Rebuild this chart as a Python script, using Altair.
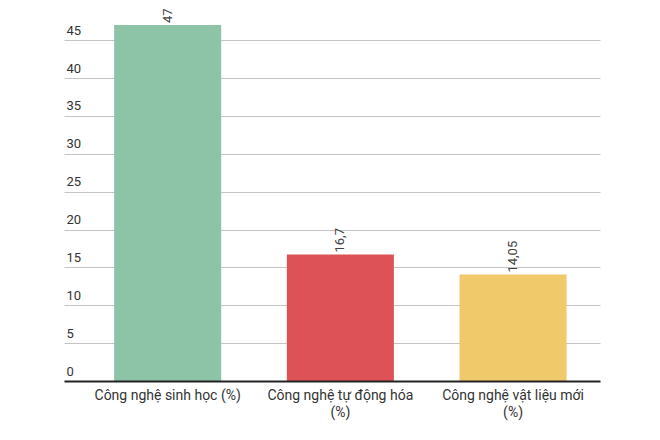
import pandas as pd
import altair as alt

categories = ["Công nghệ sinh học (%)", "Công nghệ tự động hóa\n(%)", "Công nghệ vật liệu mới\n(%)"]
values = [47, 16.7, 14.05]
value_labels = ["47", "16,7", "14,05"]
bar_colors = ["#8dc3a7", "#dc5257", "#f0c96a"]
y_ticks = [0, 5, 10, 15, 20, 25, 30, 35, 40, 45]

df = pd.DataFrame({"cat": categories, "value": values, "label": value_labels})

base = alt.Chart(df).encode(
    x=alt.X(
        "cat:N",
        sort=categories,
        title=None,
        scale=alt.Scale(paddingInner=0.38, paddingOuter=0.242, align=0.6),
        axis=alt.Axis(
            labelAngle=0,
            labelExpr="split(datum.label, '\\n')",
            labelFont="Roboto",
            labelFontSize=14,
            labelColor="#333333",
            labelPadding=7,
            labelLineHeight=17,
            ticks=False,
            domainColor="#222222",
            domainWidth=2,
            zindex=1,
        ),
    ),
    y=alt.Y(
        "value:Q",
        title=None,
        scale=alt.Scale(domain=[0, 47], nice=False),
        axis=alt.Axis(
            values=y_ticks,
            domain=False,
            ticks=False,
            labelOverlap=False,
            labelAlign="left",
            labelBaseline="bottom",
            labelPadding=-2,
            labelOffset=-3,
            labelFont="Roboto",
            labelFontSize=13,
            labelColor="#333333",
            gridColor="#c4c4c4",
            gridWidth=1,
        ),
    ),
)

bars = base.mark_bar().encode(
    color=alt.Color("cat:N", sort=categories, scale=alt.Scale(range=bar_colors), legend=None),
)

text = base.mark_text(
    angle=270, align="left", baseline="middle", dx=2,
    font="Roboto", fontSize=13, color="#444444",
).encode(text="label:N")

chart = (bars + text).properties(
    width=536,
    height=356,
    autosize=alt.AutoSizeParams(type="none"),
    padding={"left": 56, "top": 17, "right": 40, "bottom": 45},
).configure_view(stroke=None)

chart.save("out.html", embed_options={"renderer": "svg", "actions": False})
